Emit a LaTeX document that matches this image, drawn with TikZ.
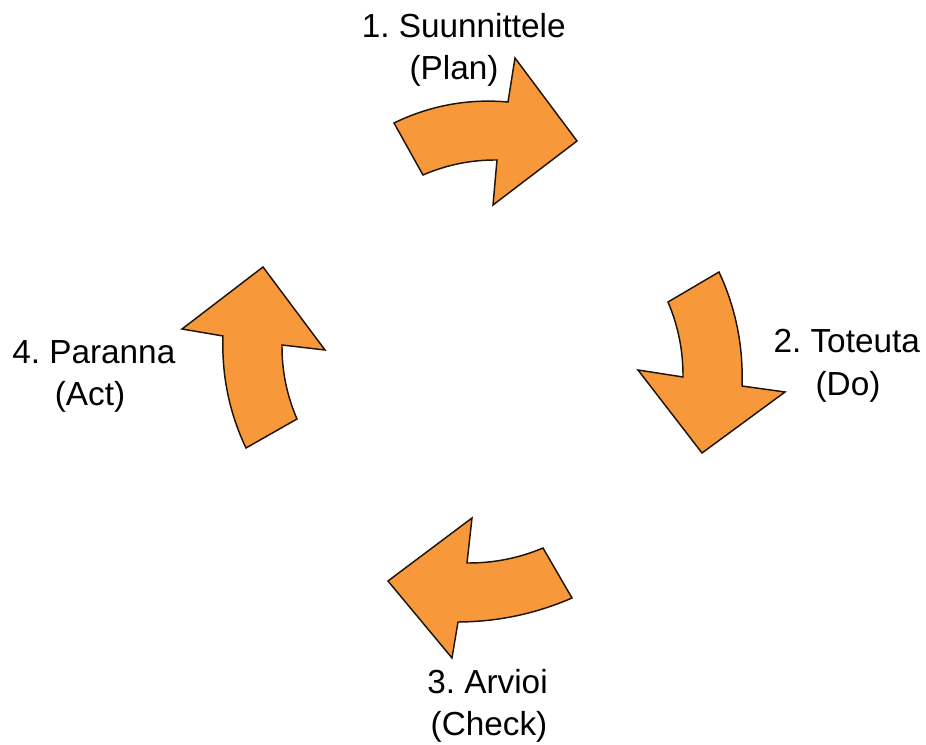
\documentclass[tikz,border=0pt]{standalone}
\usepackage{fontspec}
\setmainfont{Liberation Sans}
\frenchspacing
\definecolor{arroworange}{RGB}{247,153,58}
\definecolor{arrowline}{RGB}{30,20,10}
\begin{document}
\begin{tikzpicture}[x=0.75pt,y=-0.75pt,
  cyclearrow/.style={fill=arroworange,draw=arrowline,line width=1.1pt,line join=miter},
  lbl/.style={anchor=base,inner sep=0pt,font=\fontsize{25}{30}\selectfont}]
\useasboundingbox (0,0) rectangle (926,745);
% 1. Plan
\path[cyclearrow] (394,123) -- (423,175) .. controls (446.6,164.8) and (471.2,159.8) .. (497,160)
  -- (493,205) -- (577,141) -- (515,58) -- (508,102) .. controls (468.1,98.5) and (430.1,105.5) .. cycle;
% 2. Do
\path[cyclearrow] (668,302) -- (719,272) .. controls (735.8,308.1) and (743.4,346.1) .. (742,386)
  -- (785,392) -- (702,453) -- (638,370) -- (683,377) .. controls (683.2,350.9) and (678.2,325.9) .. cycle;
% 3. Check
\path[cyclearrow] (543,548) -- (572,598) .. controls (535.6,613.8) and (497.6,621.8) .. (458,622)
  -- (452,658) -- (388,581) -- (472,518) -- (467,563) .. controls (493.4,563.2) and (518.8,558.2) .. cycle;
% 4. Act
\path[cyclearrow] (246,448) -- (297,419) .. controls (286.8,395.4) and (281.8,370.8) .. (282,345)
  -- (325,350) -- (263,267) -- (182,329) -- (223,336) .. controls (221.6,375.2) and (229.2,412.6) .. cycle;
% labels
\node[lbl] (plan1) at (463.7,38) {1. Suunnittele};
\node[lbl] (plan2) at (454,80) {(Plan)};
\node[lbl] (do1) at (846.7,353) {2. Toteuta};
\node[lbl] (do2) at (848,396) {(Do)};
\node[lbl] (check1) at (487.5,693) {3. Arvioi};
\node[lbl] (check2) at (489,735) {(Check)};
\node[lbl] (act1) at (93.8,364) {4. Paranna};
\node[lbl] (act2) at (90,406) {(Act)};
\end{tikzpicture}
\end{document}
